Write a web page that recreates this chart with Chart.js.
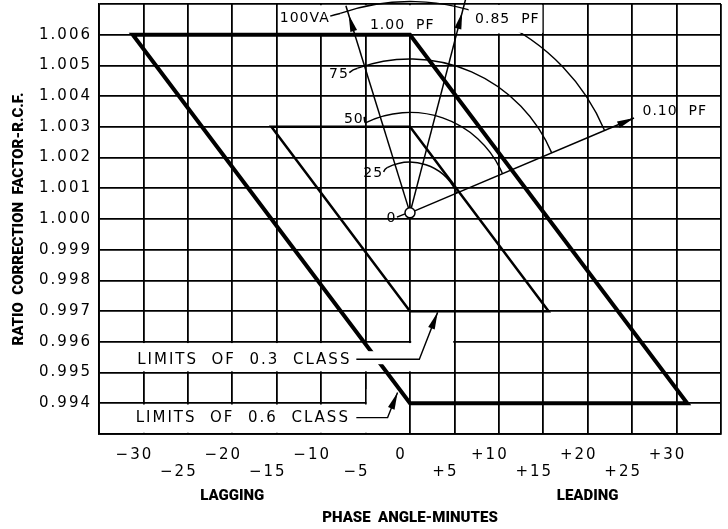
<!DOCTYPE html>
<html>
<head>
<meta charset="utf-8">
<script src="https://cdn.jsdelivr.net/npm/chart.js@4.4.1/dist/chart.umd.min.js"></script>
<style>
  html, body { margin: 0; padding: 0; background: #fff; }
</style>
</head>
<body>
<canvas id="rcfChart" width="728" height="529"></canvas>
<script>
// axis grid and tick labels
const phaseGrid = [-35, -30, -25, -20, -15, -10, -5, 0, 5, 10, 15, 20, 25, 30, 35];
const phaseUpperLabels = [-30, -20, -10, 0, 10, 20, 30];
const phaseLowerLabels = [-25, -15, -5, 5, 15, 25];
const rcfGrid = [0.993, 0.994, 0.995, 0.996, 0.997, 0.998, 0.999, 1.000,
                 1.001, 1.002, 1.003, 1.004, 1.005, 1.006, 1.007];
const rcfLabels = [0.994, 0.995, 0.996, 0.997, 0.998, 0.999, 1.000,
                   1.001, 1.002, 1.003, 1.004, 1.005, 1.006];

// accuracy class parallelograms (phase angle minutes, RCF), top edge repeated to close the corner
const class06Phase = [-31.2, 0, 31.2, 0, -31.2, 0];
const class06Rcf = [1.006, 1.006, 0.994, 0.994, 1.006, 1.006];
const class03Phase = [-15.6, 0, 15.6, 0, -15.6, 0];
const class03Rcf = [1.003, 1.003, 0.997, 0.997, 1.003, 1.003];

// burden diagram: origin, VA arcs (radius in RCF units) and power factor rays
const phasorOrigin = { phase: 0, rcf: 1.0002 };
const burdenVA = ['25', '50', '75', '100VA'];
const burdenRadius = [0.00165, 0.00327, 0.00501, 0.00688];
const burdenArcStart = [-26.8, -26, -19.9, -19.3];   // degrees from vertical
const powerFactors = [1.00, 0.85, 0.10];
const pfLabels = ['1.00  PF', '0.85  PF', '0.10  PF'];
const pfBaseAngle = -17.2;                            // degrees from vertical for unity PF
const pfReach = [0.00706, 0.00760, 0.00792];
const pfArrowReach = [0.00675, 0.00675, 0.00792];

const tickFont = 'DejaVu Sans';
const boldFont = "Roboto, 'Liberation Sans', sans-serif";

function fmtPhase(v) {
  if (v < 0) return '\u2212' + Math.abs(v);
  if (v > 0) return '+' + v;
  return '0';
}

function arrowHead(ctx, x0, y0, x1, y1, len, half) {
  const a = Math.atan2(y1 - y0, x1 - x0);
  ctx.beginPath();
  ctx.moveTo(x1, y1);
  ctx.lineTo(x1 - len * Math.cos(a) + half * Math.sin(a), y1 - len * Math.sin(a) - half * Math.cos(a));
  ctx.lineTo(x1 - len * Math.cos(a) - half * Math.sin(a), y1 - len * Math.sin(a) + half * Math.cos(a));
  ctx.closePath();
  ctx.fill();
}

// keep the plot frame where the drawing has it
function fixAxis(s, size) {
  if (s.isHorizontal()) s.height = size; else s.width = size;
  s.paddingTop = 0;
  s.paddingBottom = 0;
  s.paddingLeft = 0;
  s.paddingRight = 0;
}

const diagramPlugin = {
  id: 'diagram',
  beforeDraw(chart) {
    chart.ctx.letterSpacing = '0px';
  },
  beforeDatasetsDraw(chart) {
    const ctx = chart.ctx;
    const xs = chart.scales.x, ys = chart.scales.y;
    const rect = (x1, x2, y1, y2, inset) => {
      const l = xs.getPixelForValue(x1) + inset, r = xs.getPixelForValue(x2) - inset;
      const t = ys.getPixelForValue(y2) + inset, b = ys.getPixelForValue(y1) - inset;
      ctx.fillRect(l, t, r - l, b - t);
    };
    ctx.save();
    ctx.fillStyle = '#fff';
    // white boxes behind the lettering
    rect(-15, 5, 1.006, 1.007, 1.2);
    rect(5, 15, 1.006, 1.007, 1.2);
    rect(-35, 5, 0.995, 0.996, 1.2);
    rect(0, 5, 0.9955, 0.997, 1.2);
    rect(-35, 0, 0.993, 0.994, 1.2);
    rect(-5, 0, 0.9935, 0.9945, 1.2);
    ctx.restore();
    // tick labels are drawn after the datasets, spaced like the drafting font
    ctx.letterSpacing = '2px';
  },
  afterDatasetsDraw(chart) {
    const ctx = chart.ctx;
    const xs = chart.scales.x, ys = chart.scales.y;
    const px = (x, y) => [xs.getPixelForValue(x), ys.getPixelForValue(y)];
    const [ox, oy] = px(phasorOrigin.phase, phasorOrigin.rcf);
    const rad = d => oy - ys.getPixelForValue(phasorOrigin.rcf + d);
    const polar = (r, deg) => [ox + r * Math.sin(deg * Math.PI / 180), oy - r * Math.cos(deg * Math.PI / 180)];
    const pfAngle = powerFactors.map(pf => pfBaseAngle + Math.acos(pf) * 180 / Math.PI);
    const endAngle = pfAngle[pfAngle.length - 1];

    ctx.save();
    ctx.letterSpacing = '0px';
    ctx.strokeStyle = '#000';

    // gap in the 0.6 class line where the 0.3 class note passes
    ctx.fillStyle = '#fff';
    {
      const [l, t] = px(-35, 0.995696), [r, b] = px(-2, 0.995272);
      ctx.fillRect(l + 1, t, r - l, b - t);
    }

    // VA arcs
    ctx.lineWidth = 1.4;
    burdenRadius.forEach((d, i) => {
      ctx.beginPath();
      ctx.arc(ox, oy, rad(d), (burdenArcStart[i] - 90) * Math.PI / 180, (endAngle - 90) * Math.PI / 180);
      ctx.stroke();
    });

    // box behind 0.85 PF hides the outer arc
    ctx.fillStyle = '#fff';
    {
      const [l, t] = px(6.6, 1.00697), [r, b] = px(14.9, 1.00606);
      ctx.fillRect(l, t, r - l, b - t);
    }
    ctx.fillStyle = '#000';

    // power factor rays
    ctx.lineWidth = 1.5;
    powerFactors.forEach((pf, i) => {
      const [ex, ey] = polar(rad(pfReach[i]), pfAngle[i]);
      ctx.beginPath();
      ctx.moveTo(ox, oy);
      ctx.lineTo(ex, ey);
      ctx.stroke();
      const [ax, ay] = polar(rad(pfArrowReach[i]), pfAngle[i]);
      arrowHead(ctx, ox, oy, ax, ay, 17, 3.5);
    });

    // origin circle
    ctx.fillStyle = '#fff';
    ctx.beginPath();
    ctx.arc(ox, oy, 5, 0, Math.PI * 2);
    ctx.fill();
    ctx.stroke();
    ctx.fillStyle = '#000';

    // lettering
    ctx.textAlign = 'center';
    ctx.textBaseline = 'middle';
    const label = (text, x, y, size, spacing) => {
      ctx.font = size + 'px ' + tickFont;
      ctx.letterSpacing = spacing + 'px';
      const [lx, ly] = px(x, y);
      ctx.fillText(text, lx + spacing / 2, ly);
      return [lx, ly, ctx.measureText(text).width];
    };

    const burdenPos = [[-4.2, 1.00147], [-6.38, 1.00326], [-8.06, 1.0047], [-11.9, 1.00654]];
    burdenVA.forEach((t, i) => {
      const [lx, ly, w] = label(t, burdenPos[i][0], burdenPos[i][1], 14, 1);
      const [sx, sy] = polar(rad(burdenRadius[i]), burdenArcStart[i]);
      ctx.beginPath();
      ctx.moveTo(lx + w / 2 + 1, ly - 2);
      ctx.quadraticCurveTo((lx + w / 2 + sx) / 2, sy + 1, sx, sy);
      ctx.stroke();
    });
    {
      const [lx, ly, w] = label('0', -2.14, 1.00003, 14, 1);
      ctx.beginPath();
      ctx.moveTo(lx + w / 2 + 1, ly - 1);
      ctx.lineTo(ox - 5, oy + 1);
      ctx.stroke();
    }
    const pfPos = [[-0.93, 1.00629], [10.9, 1.00649], [29.74, 1.0035]];
    pfLabels.forEach((t, i) => label(t, pfPos[i][0], pfPos[i][1], 14, 1));

    // class notes with leaders
    label('LIMITS  OF  0.3  CLASS', -18.76, 0.99541, 15, 2);
    label('LIMITS  OF  0.6  CLASS', -18.93, 0.99352, 15, 2);
    const leaders = [
      [[-6.04, 0.995435], [1.05, 0.995435], [3.11, 0.99696]],
      [[-6.04, 0.993534], [-2.52, 0.993534], [-1.40, 0.994349]]
    ];
    ctx.lineWidth = 1.4;
    leaders.forEach(pts => {
      const p = pts.map(q => px(q[0], q[1]));
      ctx.beginPath();
      ctx.moveTo(p[0][0], p[0][1]);
      p.slice(1).forEach(q => ctx.lineTo(q[0], q[1]));
      ctx.stroke();
      const n = p.length;
      arrowHead(ctx, p[n - 2][0], p[n - 2][1], p[n - 1][0], p[n - 1][1], 17, 3.5);
    });

    // lagging / leading under the phase axis
    ctx.letterSpacing = '0px';
    ctx.font = '900 15px ' + boldFont;
    const subY = chart.chartArea.bottom + 62;
    ctx.fillText('LAGGING', xs.getPixelForValue(-20), subY);
    ctx.fillText('LEADING', xs.getPixelForValue(20), subY);
    ctx.restore();
    ctx.letterSpacing = '2px';
  }
};

new Chart(document.getElementById('rcfChart'), {
  type: 'scatter',
  data: {
    datasets: [
      {
        label: 'Limits of 0.6 class',
        data: class06Phase.map((x, i) => ({ x: x, y: class06Rcf[i] })),
        showLine: true,
        borderColor: '#000',
        borderWidth: 4,
        borderJoinStyle: 'miter',
        pointRadius: 0,
        tension: 0
      },
      {
        label: 'Limits of 0.3 class',
        data: class03Phase.map((x, i) => ({ x: x, y: class03Rcf[i] })),
        showLine: true,
        borderColor: '#000',
        borderWidth: 2.5,
        borderJoinStyle: 'miter',
        pointRadius: 0,
        tension: 0
      }
    ]
  },
  options: {
    responsive: false,
    animation: false,
    devicePixelRatio: 1,
    layout: { padding: { top: 4, right: 7, left: 0, bottom: 0 } },
    plugins: { legend: { display: false }, tooltip: { enabled: false } },
    scales: {
      x: {
        type: 'linear',
        min: -35,
        max: 35,
        afterBuildTicks: s => { s.ticks = phaseGrid.map(v => ({ value: v })); },
        afterFit: s => fixAxis(s, 95),
        grid: { color: '#000', lineWidth: 1.8, drawTicks: false },
        border: { color: '#000', width: 1.8 },
        ticks: {
          z: 1,
          autoSkip: false,
          maxRotation: 0,
          padding: 13,
          labelOffset: -9,
          color: '#000',
          font: { family: tickFont, size: 15, lineHeight: 1.1 },
          callback: v => {
            if (phaseUpperLabels.includes(v)) return [fmtPhase(v), ''];
            if (phaseLowerLabels.includes(v)) return ['', fmtPhase(v)];
            return '';
          }
        },
        title: {
          display: true,
          text: 'PHASE  ANGLE-MINUTES',
          color: '#000',
          font: { family: boldFont, size: 15, weight: '900' },
          padding: { top: 0, bottom: 2 }
        }
      },
      y: {
        type: 'linear',
        min: 0.993,
        max: 1.007,
        afterBuildTicks: s => { s.ticks = rcfGrid.map(v => ({ value: v })); },
        afterFit: s => fixAxis(s, 99),
        grid: { color: '#000', lineWidth: 1.8, drawTicks: false },
        border: { color: '#000', width: 1.8 },
        ticks: {
          z: 1,
          padding: 7,
          color: '#000',
          font: { family: tickFont, size: 15 },
          callback: v => rcfLabels.some(l => Math.abs(l - v) < 1e-7) ? v.toFixed(3) : ''
        },
        title: {
          display: true,
          text: 'RATIO  CORRECTION  FACTOR-R.C.F.',
          color: '#000',
          font: { family: boldFont, size: 15, weight: '900' },
          padding: { top: 10, bottom: 0 }
        }
      }
    }
  },
  plugins: [diagramPlugin]
});
</script>
</body>
</html>
